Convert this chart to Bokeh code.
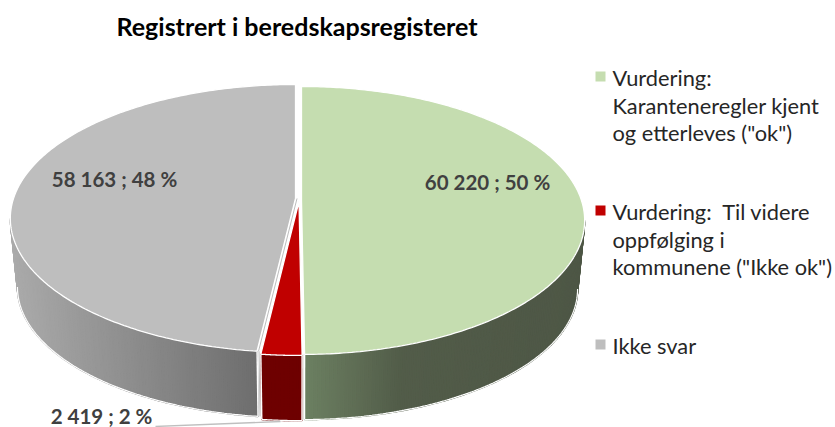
import numpy as np
from bokeh.plotting import figure
from bokeh.models import Range1d
from bokeh.core.properties import value
from bokeh.embed import file_html
from bokeh.resources import INLINE

# data
categories = ["Vurdering: Karanteneregler kjent og etterleves (\"ok\")",
              "Vurdering:  Til videre oppfølging i kommunene (\"Ikke ok\")",
              "Ikke svar"]
values = [60220, 2419, 58163]
point_labels = ["60 220 ; 50 %", "2 419 ; 2 %", "58 163 ; 48 %"]
legend_lines = [["Vurdering:", "Karanteneregler kjent", "og etterleves (\"ok\")"],
                ["Vurdering:\u00a0 Til videre", "oppfølging i", "kommunene (\"Ikke ok\")"],
                ["Ikke svar"]]
title = "Registrert i beredskapsregisteret"

# styles
top_colors = ["#C5DDB0", "#C00000", "#BEBEBE"]
side_stops = [[(304, "#6C8062"), (400, "#525C49"), (580, "#4E5746")],
              [(258, "#6E0000"), (302, "#6E0000")],
              [(10, "#ABABAB"), (256, "#6E6E6E")]]
FONT = "Lato"
apex_x = [301, 298.5, 295]
apex_y = [200, 201, 198]
scale_x = [280, 280, 282]
SY, K, SHRINK, DROP = 131.0, 0.149, 0.975, 69

W, H = 835, 427
p = figure(width=W, height=H, x_range=Range1d(0, W), y_range=Range1d(H, 0),
           toolbar_location=None, output_backend="svg", min_border=0)
p.axis.visible = False
p.grid.visible = False
p.outline_line_color = None

def hex2rgb(c):
    return np.array([int(c[i:i + 2], 16) for i in (1, 3, 5)], float)

def lerp(stops, x):
    xs = [s[0] for s in stops]
    cs = np.array([hex2rgb(s[1]) for s in stops])
    r = [np.interp(x, xs, cs[:, i]) for i in range(3)]
    return "#%02x%02x%02x" % tuple(int(round(v)) for v in r)

def rim(i, theta, bottom=False):
    u, v = np.sin(theta), -np.cos(theta)
    s = SHRINK if bottom else 1.0
    d = 1 - K * v
    x = apex_x[i] + s * scale_x[i] * u / d
    y = apex_y[i] + s * SY * v / d + (DROP if bottom else 0)
    return x, y

total = sum(values)
edges = np.cumsum([0] + values) / total * 2 * np.pi
spans = [(edges[i], edges[i + 1]) for i in range(3)]

# the wall is only seen between the two widest points of the rim
widest = np.pi - np.arccos(K)
vis_lo, vis_hi = widest, 2 * np.pi - widest

# side walls, one strip per small step of angle so the shading runs along x
for i in [2, 0, 1]:
    a, b = spans[i]
    lo, hi = max(a, vis_lo), min(b, vis_hi)
    t = np.linspace(lo, hi, max(3, int((hi - lo) / 0.012)))
    xs, ys, cols = [], [], []
    for t0, t1 in zip(t[:-1], t[1:]):
        x0, y0 = rim(i, t0)
        x1, y1 = rim(i, t1)
        x2, y2 = rim(i, t1, True)
        x3, y3 = rim(i, t0, True)
        xs.append([x0, x1, x2, x3])
        ys.append([y0, y1, y2, y3])
        cols.append(lerp(side_stops[i], (x0 + x1 + x2 + x3) / 4))
    p.patches(xs, ys, fill_color=cols, line_color=cols, line_width=1.5)
    tb = np.linspace(lo, hi, 160)
    bx, by = rim(i, tb, True)
    p.line(bx, by, line_color="white", line_width=1.2)
    for edge in ([hi] if i == 0 else []) + ([lo, hi] if i == 1 else []) + ([lo] if i == 2 else []):
        x0, y0 = rim(i, edge)
        x1, y1 = rim(i, edge, True)
        p.line([x0, x1], [y0, y1], line_color="white", line_width=1.4)

# top faces
for i in [2, 0, 1]:
    a, b = spans[i]
    t = np.linspace(a, b, 240)
    x, y = rim(i, t)
    xs = np.r_[apex_x[i], x]
    ys = np.r_[apex_y[i], y]
    p.patch(xs, ys, fill_color=top_colors[i], line_color="white", line_width=1.3)

# thin inner wall of the grey slice seen beside the red one
x_e, y_e = rim(2, spans[2][0])
p.line([apex_x[2] + 1.5, x_e + 1.5], [apex_y[2], y_e], line_color="#BDBDBD", line_width=1)
x_b, y_b = rim(2, spans[2][0], True)
p.line([x_e + 2, x_b + 2], [y_e, y_b], line_color="#BDBDBD", line_width=1)

# title
p.text([296.5], [25], text=[title], text_font=value(FONT), text_font_style="bold",
       text_font_size="25px", text_color="black", text_align="center", text_baseline="middle")

# data labels
label_x = [487, 101, 114]
label_y = [181, 415, 178]
p.text(label_x, label_y, text=point_labels, text_font=value(FONT), text_font_style="bold",
       text_font_size="20.5px", text_color="#404040", text_align="center", text_baseline="middle")
p.line([155, 280], [426, 421], line_color="#BFBFBF", line_width=1.3)

# legend
swatch_y = [76, 210, 344]
p.rect([600, 600, 600], swatch_y, width=10, height=10, fill_color=top_colors, line_color=None)
for ly, lines in zip(swatch_y, legend_lines):
    p.text([612] * len(lines), [ly + 1 + 27.5 * k for k in range(len(lines))], text=lines,
           text_font=value(FONT), text_font_size="21.8px", text_color="#262626",
           text_align="left", text_baseline="middle")

open("out.html", "w").write(file_html(p, INLINE))
